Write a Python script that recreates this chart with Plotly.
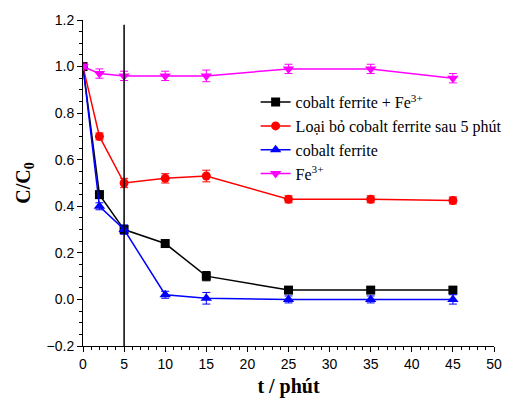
import plotly.graph_objects as go

t = [0, 2, 5, 10, 15, 25, 35, 45]
cf_fe = [1.0, 0.45, 0.30, 0.24, 0.10, 0.04, 0.04, 0.04]
cf_fe_err = [0.015, 0.015, 0.015, 0.015, 0.02, 0.01, 0.01, 0.01]
removed = [1.0, 0.70, 0.50, 0.52, 0.53, 0.43, 0.43, 0.425]
removed_err = [0.01, 0.015, 0.02, 0.02, 0.025, 0.015, 0.015, 0.015]
cf = [1.0, 0.40, 0.30, 0.02, 0.005, 0.0, 0.0, 0.0]
cf_err = [0.01, 0.015, 0.02, 0.015, 0.025, 0.015, 0.015, 0.02]
fe = [1.0, 0.97, 0.96, 0.96, 0.96, 0.99, 0.99, 0.95]
fe_err = [0.01, 0.02, 0.02, 0.02, 0.025, 0.02, 0.02, 0.02]

names = ["cobalt ferrite + Fe<sup>3+</sup>", "Loại bỏ cobalt ferrite sau 5 phút",
         "cobalt ferrite", "Fe<sup>3+</sup>"]
colors = ["#000000", "#ff0000", "#0000ff", "#ff00ff"]
symbols = ["square", "circle", "triangle-up", "triangle-down"]
sizes = [9, 9, 10, 10]
series = [(cf_fe, cf_fe_err), (removed, removed_err), (cf, cf_err), (fe, fe_err)]

fig = go.Figure()
for (y, e), n, c, s, sz in zip(series, names, colors, symbols, sizes):
    fig.add_trace(go.Scatter(
        x=t, y=y, name=n, mode="lines+markers",
        line=dict(color=c, width=1.5),
        marker=dict(symbol=s, size=sz, color=c),
        error_y=dict(type="data", array=e, color=c, thickness=1, width=4),
    ))

fig.add_shape(type="line", x0=5, x1=5, y0=-0.2, y1=1.18, xref="x", yref="y",
              line=dict(color="black", width=1.5))

axis_common = dict(showgrid=False, zeroline=False, showline=True, linecolor="black",
                   linewidth=1, ticks="outside", ticklen=5, tickcolor="black",
                   tickfont=dict(family="Liberation Sans", size=14, color="black"),
                   minor=dict(ticks="outside", ticklen=3, tickcolor="black"))

fig.update_xaxes(range=[0, 50], dtick=5, **axis_common,
                 title=dict(text="<b>t / phút</b>", font=dict(family="Liberation Serif", size=20, color="black"), standoff=8))
fig.update_yaxes(range=[-0.2, 1.2], dtick=0.2, tickformat=".1f", **axis_common,
                 title=dict(text="<b>C/C<sub>0</sub></b>", font=dict(family="Liberation Serif", size=20, color="black"), standoff=10))

fig.update_layout(
    width=526, height=406,
    margin=dict(l=83, r=32, t=17, b=59),
    plot_bgcolor="white", paper_bgcolor="white",
    legend=dict(x=0.42, y=0.80, xanchor="left", yanchor="top",
                font=dict(family="Liberation Serif", size=16, color="black"),
                bgcolor="rgba(0,0,0,0)", tracegroupgap=0, itemwidth=30),
)

fig.write_html("out.html")
